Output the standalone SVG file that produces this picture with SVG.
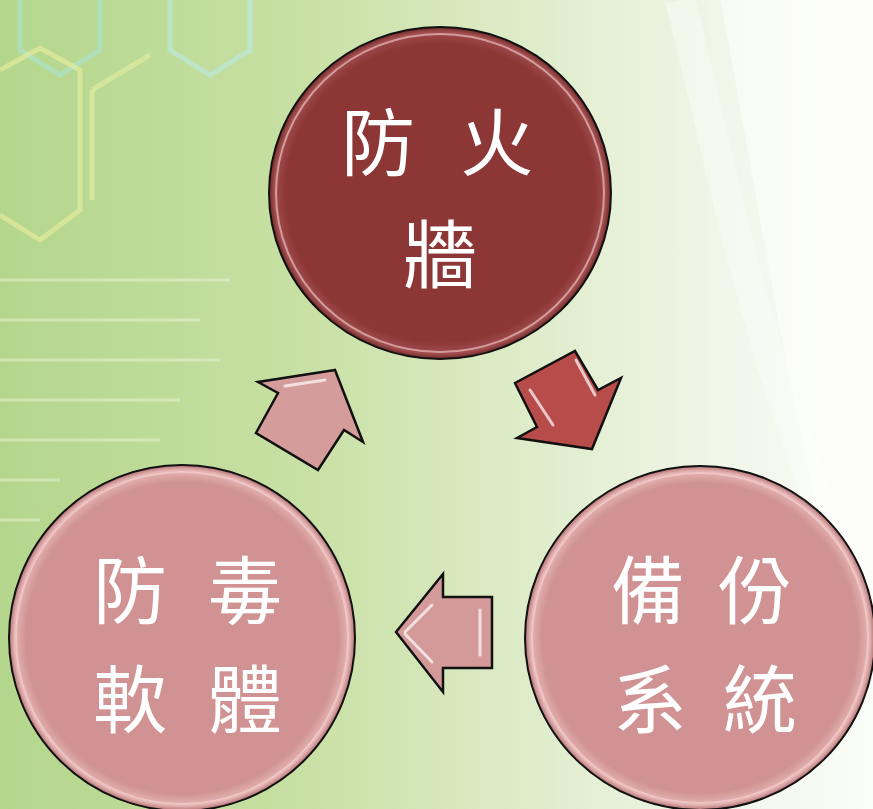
<svg xmlns="http://www.w3.org/2000/svg" width="873" height="809" viewBox="0 0 873 809">
<defs>
<linearGradient id="bg" x1="0" y1="0" x2="1" y2="0">
<stop offset="0" stop-color="#b4d68c"/>
<stop offset="0.35" stop-color="#c8e0a4"/>
<stop offset="0.65" stop-color="#e2eed0"/>
<stop offset="0.85" stop-color="#f2f7ec"/>
<stop offset="1" stop-color="#fbfdf8"/>
</linearGradient>
<radialGradient id="gDark" cx="0.5" cy="0.5" r="0.5">
<stop offset="0.9" stop-color="#8c3636"/>
<stop offset="0.97" stop-color="#a24e4e"/>
<stop offset="1" stop-color="#6e2828"/>
</radialGradient>
<radialGradient id="gPink" cx="0.5" cy="0.5" r="0.5">
<stop offset="0.9" stop-color="#d09292"/>
<stop offset="0.97" stop-color="#e6b4b4"/>
<stop offset="1" stop-color="#b07070"/>
</radialGradient>
<style>
.node{stroke:#111;stroke-width:2}
.rim{fill:none;stroke:#f6d4d4;stroke-width:2;opacity:0.6}
.lbl{font-family:"Noto Sans CJK TC","Noto Sans CJK SC",serif;font-size:74px;fill:#fff;text-anchor:middle;font-weight:400}
.arr{stroke:#111;stroke-width:2.5;stroke-linejoin:miter}
.hl{fill:none;stroke:#fff;stroke-width:3;opacity:0.7;stroke-linecap:round}
.hex{fill:none;stroke-width:5;opacity:0.55}
</style>
</defs>
<rect width="873" height="809" fill="url(#bg)"/>
<g id="background">
<path d="M720,0 C760,200 800,500 873,700 L873,0 Z" fill="#ffffff" opacity="0.55"/>
<path d="M680,0 C720,150 760,400 873,620" fill="none" stroke="#ffffff" stroke-width="30" opacity="0.35"/>
<path d="M20,0 L20,50 L60,75 L100,50 L100,0" class="hex" stroke="#a8e6d8"/>
<path d="M170,0 L170,50 L210,75 L250,50 L250,0" class="hex" stroke="#b8ecec"/>
<path d="M0,70 L40,48 L80,70 L80,210 L40,240 L0,215" class="hex" stroke="#f0f0a0"/>
<path d="M92,90 L150,55" class="hex" stroke="#e8f0a0"/>
<path d="M92,90 L92,200" class="hex" stroke="#e8f0a0"/>
<g stroke="#ffffff" stroke-width="3" opacity="0.35">
<line x1="0" y1="280" x2="230" y2="280"/>
<line x1="0" y1="320" x2="200" y2="320"/>
<line x1="0" y1="360" x2="220" y2="360"/>
<line x1="0" y1="400" x2="180" y2="400"/>
<line x1="0" y1="440" x2="160" y2="440"/>
<line x1="0" y1="480" x2="60" y2="480"/>
<line x1="0" y1="520" x2="40" y2="520"/>
</g>
</g>
<g id="connectors">
<g id="arrow-up">
<polygon class="arr" fill="#d59c9c" points="335,370 258,382 278,393 256,433 318,470 344,430 363,442"/>
<path class="hl" d="M285,386 L325,380"/>
</g>
<g id="arrow-down">
<polygon class="arr" fill="#b84c4a" points="515,383 575,351 598,390 621,378 592,449 517,438 537,427"/>
<path class="hl" d="M530,390 L553,425 M576,360 L595,395"/>
</g>
<g id="arrow-left">
<polygon class="arr" fill="#d49a9a" points="396,632 443,574 443,597 492,597 492,668 443,668 443,692"/>
<path class="hl" d="M405,632 L432,605 M405,634 L432,662 M480,610 L480,655"/>
</g>
</g>
<g id="node-firewall">
<ellipse class="node" cx="440" cy="193" rx="171" ry="166" fill="url(#gDark)"/>
<ellipse class="rim" cx="440" cy="193" rx="164" ry="159"/>
<text class="lbl"><tspan x="378" y="170">防</tspan><tspan x="497" y="170">火</tspan><tspan x="440" y="282">牆</tspan></text>
</g>
<g id="node-antivirus">
<ellipse class="node" cx="182" cy="638" rx="173" ry="173" fill="url(#gPink)"/>
<ellipse class="rim" cx="182" cy="638" rx="166" ry="166"/>
<text class="lbl"><tspan x="130" y="618">防</tspan><tspan x="245" y="618">毒</tspan><tspan x="130" y="727">軟</tspan><tspan x="245" y="727">體</tspan></text>
</g>
<g id="node-backup">
<ellipse class="node" cx="700" cy="638" rx="175" ry="172" fill="url(#gPink)"/>
<ellipse class="rim" cx="700" cy="638" rx="168" ry="165"/>
<text class="lbl"><tspan x="648" y="618">備</tspan><tspan x="755" y="618">份</tspan><tspan x="650" y="727">系</tspan><tspan x="760" y="727">統</tspan></text>
</g>
</svg>
